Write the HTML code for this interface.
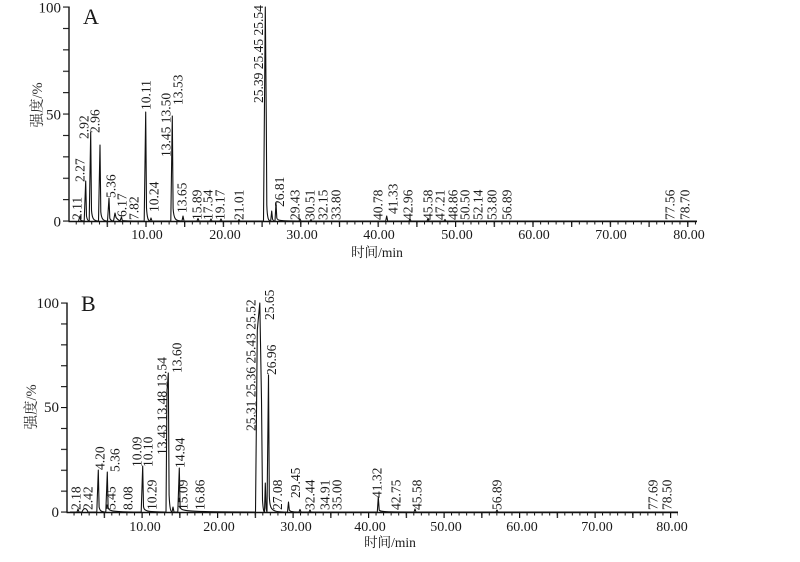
<!DOCTYPE html>
<html>
<head>
<meta charset="utf-8">
<style>
html,body{margin:0;padding:0;background:#fff;}
svg{display:block;}
text{font-family:"Liberation Serif","Noto Serif CJK SC",serif;fill:#1a1a1a;}
.pk{font-size:13.5px;}
.tk{font-size:14px;}
.yt{font-size:15px;}
.ttl{font-family:"Liberation Serif","Noto Serif CJK SC","Noto Sans CJK SC",serif;font-size:13.5px;}
.ytl{font-family:"Liberation Serif","Noto Serif CJK SC","Noto Sans CJK SC",serif;font-size:14.5px;fill:#333;}
.tr{fill:none;stroke:#111;stroke-width:1.1;stroke-linejoin:round;}
</style>
</head>
<body>
<svg width="800" height="562" viewBox="0 0 800 562" xmlns="http://www.w3.org/2000/svg">
<defs>
<pattern id="axm" patternUnits="userSpaceOnUse" x="68" y="0" width="7.74" height="10"><rect x="0" y="0" width="1" height="10" fill="#111"/></pattern>
<pattern id="axM" patternUnits="userSpaceOnUse" x="68" y="0" width="38.7" height="10"><rect x="0" y="0" width="1.2" height="10" fill="#111"/></pattern>
<pattern id="aym" patternUnits="userSpaceOnUse" x="0" y="6.5" width="10" height="21.4"><rect x="0" y="0" width="10" height="1.1" fill="#111"/></pattern>
<pattern id="bxm" patternUnits="userSpaceOnUse" x="66" y="0" width="7.55" height="10"><rect x="0" y="0" width="1" height="10" fill="#111"/></pattern>
<pattern id="bxM" patternUnits="userSpaceOnUse" x="66" y="0" width="37.75" height="10"><rect x="0" y="0" width="1.2" height="10" fill="#111"/></pattern>
<pattern id="bym" patternUnits="userSpaceOnUse" x="0" y="302.5" width="10" height="20.9"><rect x="0" y="0" width="10" height="1.1" fill="#111"/></pattern>
</defs>

<!-- ================= PANEL A ================= -->
<text x="83" y="24" style="font-size:22px;">A</text>
<line x1="69" y1="6.5" x2="69" y2="221.5" stroke="#111" stroke-width="1.4"/>
<rect x="63" y="6" width="6" height="216" fill="url(#aym)"/>
<line x1="68.5" y1="221.5" x2="697" y2="221.5" stroke="#111" stroke-width="1.6"/>
<rect x="72" y="221.5" width="625" height="3" fill="url(#axm)"/>
<rect x="72" y="221.5" width="625" height="5.5" fill="url(#axM)"/>
<text class="yt" x="61" y="12.5" text-anchor="end">100</text>
<text class="yt" x="61" y="119.5" text-anchor="end">50</text>
<text class="yt" x="61" y="226.5" text-anchor="end">0</text>
<text class="tk" x="147" y="239" text-anchor="middle">10.00</text>
<text class="tk" x="225" y="239" text-anchor="middle">20.00</text>
<text class="tk" x="302" y="239" text-anchor="middle">30.00</text>
<text class="tk" x="379" y="239" text-anchor="middle">40.00</text>
<text class="tk" x="457" y="239" text-anchor="middle">50.00</text>
<text class="tk" x="534" y="239" text-anchor="middle">60.00</text>
<text class="tk" x="611" y="239" text-anchor="middle">70.00</text>
<text class="tk" x="689" y="239" text-anchor="middle">80.00</text>
<text class="ttl" x="377" y="257" text-anchor="middle">时间/min</text>
<text class="ytl" transform="translate(42,105) rotate(-90)" text-anchor="middle">强度/%</text>
<path class="tr" d="
M78.5,221 L80,216 L80.8,220.4 C81.5,220.8 83,221 84.2,221
L85.7,181 L86.5,216.2 C87.2,220 88,221 89.2,221
L90.7,132 L91.5,210.3 C92.2,219.5 94,221 98.5,221
L100,145 L100.8,211.9 C101.5,219.5 103.5,221 107.5,221
L109,198 L109.8,218.2 C110.5,220.5 112,221 113.5,221
L115,213 L116,217.5 C118,220 120,221 120,221
L121.5,217 L122.3,220.5 C123,221 124,221 144.2,221
L145.7,112 L146.5,207.9 C147.2,219.5 148.5,221 150,221
L151,218 L152,221 L170.8,221
L172.3,116 L173.1,208.4 C173.8,219.5 175.5,221 182,221
L183,216 L184,221 L197,221 L198,218.5 L199,221 L210,221 L211,219 L212,221 L220,221 L221,219 L222,221 L238,221 L239,219.5 L240,221
L263.5,221 L265.3,7 L266.3,120 L266.8,205 C267.3,219 268.5,221 270.7,221
L271.7,211 L272.5,219 C273,220.5 274,221 275,221
L276,203 L276.8,218 C277.5,220.5 279,221 299,221
L300,219 L301,221 L310,221 L311,219.5 L312,221 L385.7,221
L386.7,216 L387.7,221 L409,221 L410,219 L411,221 L427,221 L428,218.5 L429,221 L444,221 L445,219.5 L446,221 L697,221"/>
<g class="pk">
<text transform="translate(81.5,220) rotate(-90)">2.11</text>
<text transform="translate(84.5,182) rotate(-90)">2.27</text>
<text transform="translate(88.5,139) rotate(-90)">2.92</text>
<text transform="translate(99.5,133) rotate(-90)">2.96</text>
<text transform="translate(115.5,198) rotate(-90)">5.36</text>
<text transform="translate(126.5,217) rotate(-90)">6.17</text>
<text transform="translate(138.5,220) rotate(-90)">7.82</text>
<text transform="translate(150.5,110) rotate(-90)">10.11</text>
<text transform="translate(158.5,212) rotate(-90)">10.24</text>
<text transform="translate(170.5,157) rotate(-90)">13.45 13.50</text>
<text transform="translate(182.5,105) rotate(-90)">13.53</text>
<text transform="translate(186.5,213) rotate(-90)">13.65</text>
<text transform="translate(201.5,220) rotate(-90)">15.89</text>
<text transform="translate(212.5,220) rotate(-90)">17.54</text>
<text transform="translate(224.5,220) rotate(-90)">19.17</text>
<text transform="translate(243.5,220) rotate(-90)">21.01</text>
<text transform="translate(263,103) rotate(-90)">25.39 25.45 25.54</text>
<text transform="translate(284,207) rotate(-90)">26.81</text>
<text transform="translate(299.5,220) rotate(-90)">29.43</text>
<text transform="translate(314.5,220) rotate(-90)">30.51</text>
<text transform="translate(327.5,220) rotate(-90)">32.15</text>
<text transform="translate(340.5,220) rotate(-90)">33.80</text>
<text transform="translate(382.5,220) rotate(-90)">40.78</text>
<text transform="translate(397.5,214) rotate(-90)">41.33</text>
<text transform="translate(412.5,220) rotate(-90)">42.96</text>
<text transform="translate(432.5,220) rotate(-90)">45.58</text>
<text transform="translate(444.5,220) rotate(-90)">47.21</text>
<text transform="translate(457.5,220) rotate(-90)">48.86</text>
<text transform="translate(469.5,220) rotate(-90)">50.50</text>
<text transform="translate(482.5,220) rotate(-90)">52.14</text>
<text transform="translate(496.5,220) rotate(-90)">53.80</text>
<text transform="translate(511.5,220) rotate(-90)">56.89</text>
<text transform="translate(674.5,220) rotate(-90)">77.56</text>
<text transform="translate(689.5,220) rotate(-90)">78.70</text>
</g>

<!-- ================= PANEL B ================= -->
<text x="81" y="311" style="font-size:22px;">B</text>
<line x1="67" y1="302.5" x2="67" y2="512.5" stroke="#111" stroke-width="1.4"/>
<rect x="61" y="302" width="6" height="211" fill="url(#bym)"/>
<line x1="66.5" y1="512.5" x2="678" y2="512.5" stroke="#111" stroke-width="1.6"/>
<rect x="70" y="512.5" width="608" height="3" fill="url(#bxm)"/>
<rect x="70" y="512.5" width="608" height="5.5" fill="url(#bxM)"/>
<text class="yt" x="59" y="308" text-anchor="end">100</text>
<text class="yt" x="59" y="412" text-anchor="end">50</text>
<text class="yt" x="59" y="517" text-anchor="end">0</text>
<text class="tk" x="145" y="531" text-anchor="middle">10.00</text>
<text class="tk" x="219" y="531" text-anchor="middle">20.00</text>
<text class="tk" x="296" y="531" text-anchor="middle">30.00</text>
<text class="tk" x="370" y="531" text-anchor="middle">40.00</text>
<text class="tk" x="446" y="531" text-anchor="middle">50.00</text>
<text class="tk" x="522" y="531" text-anchor="middle">60.00</text>
<text class="tk" x="597" y="531" text-anchor="middle">70.00</text>
<text class="tk" x="672" y="531" text-anchor="middle">80.00</text>
<text class="ttl" x="390" y="547" text-anchor="middle">时间/min</text>
<text class="ytl" transform="translate(36,407) rotate(-90)" text-anchor="middle">强度/%</text>
<path class="tr" d="
M70,512 L77,512 L78,509 L79,512 L82,512 Q85,505 88,512
L96.8,512 L98.3,470 L99.1,507 C99.8,511 101.3,512 105.8,512
L107.3,472 L108.1,507.2 C108.8,511 110.3,512 141.2,512
L142.7,466 L143.5,506.5 C144.2,511 145.7,512 166,512
L167,390 L167.5,385 L168.3,373 L169.1,495 C169.8,510 171,512 172,512
L173,507 L174,512 L177.8,512
L179.3,468 L180.1,506.7 C180.8,511 182.3,512 255.5,512
L257.3,330 L259.8,303 L261.5,400 L262.5,500 C263.2,511 264,512 264.5,512
L265.3,483 L266.1,508 C266.5,511 266.8,512 267,512
L268.5,375 L269.3,496 C270,511 271.5,512 287.5,512
L288.5,502 L289.3,510 C290,511.5 291,512 299,512 L300,509.5 L301,512 L309,512 L310,510 L311,512 L377.3,512
L378.3,497 L379.2,510 C380,511.5 381,512 414,512 L415,509 L416,512 L496,512 L497,510 L498,512 L678,512"/>
<g class="pk">
<text transform="translate(80.5,510) rotate(-90)">2.18</text>
<text transform="translate(92.5,510) rotate(-90)">2.42</text>
<text transform="translate(104.5,470) rotate(-90)">4.20</text>
<text transform="translate(115.5,510) rotate(-90)">5.45</text>
<text transform="translate(119.5,472) rotate(-90)">5.36</text>
<text transform="translate(132.5,510) rotate(-90)">8.08</text>
<text transform="translate(141.5,467) rotate(-90)">10.09</text>
<text transform="translate(152.5,467) rotate(-90)">10.10</text>
<text transform="translate(156.5,510) rotate(-90)">10.29</text>
<text transform="translate(166.5,455) rotate(-90)">13.43 13.48 13.54</text>
<text transform="translate(181.5,373) rotate(-90)">13.60</text>
<text transform="translate(184.5,468) rotate(-90)">14.94</text>
<text transform="translate(187.5,510) rotate(-90)">15.09</text>
<text transform="translate(204.5,510) rotate(-90)">16.86</text>
<text transform="translate(255.5,431) rotate(-90)">25.31 25.36 25.43 25.52</text>
<text transform="translate(274,320) rotate(-90)">25.65</text>
<text transform="translate(276,375) rotate(-90)">26.96</text>
<text transform="translate(282,510) rotate(-90)">27.08</text>
<text transform="translate(300,498) rotate(-90)">29.45</text>
<text transform="translate(314.5,510) rotate(-90)">32.44</text>
<text transform="translate(329.5,510) rotate(-90)">34.91</text>
<text transform="translate(341.5,510) rotate(-90)">35.00</text>
<text transform="translate(381.5,498) rotate(-90)">41.32</text>
<text transform="translate(400.5,510) rotate(-90)">42.75</text>
<text transform="translate(421.5,510) rotate(-90)">45.58</text>
<text transform="translate(501.5,510) rotate(-90)">56.89</text>
<text transform="translate(657.5,510) rotate(-90)">77.69</text>
<text transform="translate(671.5,510) rotate(-90)">78.50</text>
</g>
</svg>
</body>
</html>
